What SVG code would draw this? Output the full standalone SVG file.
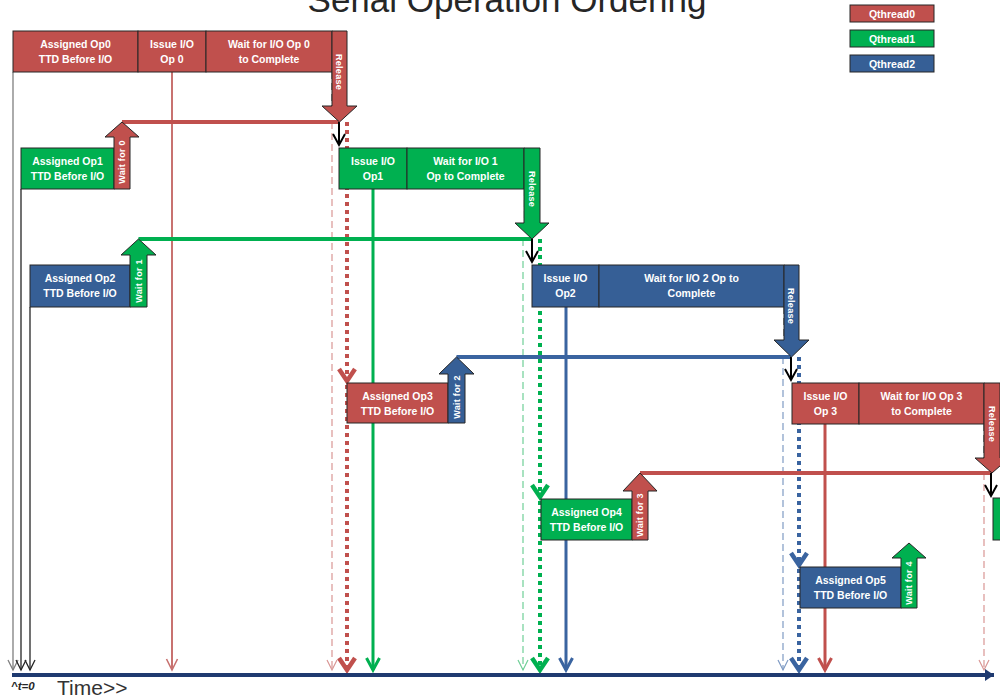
<svg xmlns="http://www.w3.org/2000/svg" width="1000" height="700" viewBox="0 0 1000 700">
  <style>
    .r { fill: #C0504D; }
    .g { fill: #00B050; }
    .b { fill: #365F96; }
    .box { stroke: #262626; stroke-width: 1; }
    .lbl { font-family: "Liberation Sans", Arial, sans-serif; font-weight: bold; font-size: 10.5px; fill: #ffffff; text-anchor: middle; }
    .vt { font-family: "Liberation Sans", Arial, sans-serif; font-weight: bold; font-size: 9px; fill: #ffffff; text-anchor: middle; letter-spacing: 0.3px; }
    .leg { font-family: "Liberation Sans", Arial, sans-serif; font-weight: bold; font-size: 10.5px; fill: #ffffff; text-anchor: middle; }
    .thin { fill: none; stroke-width: 1.3; }
    .solid { fill: none; stroke-width: 3; }
    .dash { fill: none; stroke-width: 1.2; stroke-dasharray: 7 4; }
    .dot { fill: none; stroke-width: 4; stroke-dasharray: 4 4; }
    .bar { fill: none; stroke-width: 4; }
  </style>
  <defs>
    <!-- open V heads; +x is the line direction -->
    <marker id="hGray" markerUnits="userSpaceOnUse" orient="auto" overflow="visible" refX="0" refY="0" markerWidth="1" markerHeight="1">
      <path d="M-10,-5 L0,0 L-10,5" fill="none" stroke="#7f7f7f" stroke-width="1.3"/>
    </marker>
    <marker id="hBlackThin" markerUnits="userSpaceOnUse" orient="auto" overflow="visible" refX="0" refY="0" markerWidth="1" markerHeight="1">
      <path d="M-10,-5 L0,0 L-10,5" fill="none" stroke="#262626" stroke-width="1.3"/>
    </marker>
    <marker id="hBlack" markerUnits="userSpaceOnUse" orient="auto" overflow="visible" refX="0" refY="0" markerWidth="1" markerHeight="1">
      <path d="M-11,-6 L0,0 L-11,6" fill="none" stroke="#000000" stroke-width="2"/>
    </marker>
    <marker id="hRedThin" markerUnits="userSpaceOnUse" orient="auto" overflow="visible" refX="0" refY="0" markerWidth="1" markerHeight="1">
      <path d="M-11,-5.5 L0,0 L-11,5.5" fill="none" stroke="#C87270" stroke-width="1.6"/>
    </marker>
    <marker id="hPink" markerUnits="userSpaceOnUse" orient="auto" overflow="visible" refX="0" refY="0" markerWidth="1" markerHeight="1">
      <path d="M-10,-5 L0,0 L-10,5" fill="none" stroke="#D99694" stroke-width="1.2"/>
    </marker>
    <marker id="hGreenLt" markerUnits="userSpaceOnUse" orient="auto" overflow="visible" refX="0" refY="0" markerWidth="1" markerHeight="1">
      <path d="M-10,-5 L0,0 L-10,5" fill="none" stroke="#6FCF97" stroke-width="1.2"/>
    </marker>
    <marker id="hBlueLt" markerUnits="userSpaceOnUse" orient="auto" overflow="visible" refX="0" refY="0" markerWidth="1" markerHeight="1">
      <path d="M-10,-5 L0,0 L-10,5" fill="none" stroke="#7F9BC4" stroke-width="1.2"/>
    </marker>
    <marker id="hRed" markerUnits="userSpaceOnUse" orient="auto" overflow="visible" refX="0" refY="0" markerWidth="1" markerHeight="1">
      <path d="M-12,-6.5 L0,0 L-12,6.5" fill="none" stroke="#C0504D" stroke-width="3"/>
    </marker>
    <marker id="hGreen" markerUnits="userSpaceOnUse" orient="auto" overflow="visible" refX="0" refY="0" markerWidth="1" markerHeight="1">
      <path d="M-12,-6.5 L0,0 L-12,6.5" fill="none" stroke="#00B050" stroke-width="3"/>
    </marker>
    <marker id="hBlue" markerUnits="userSpaceOnUse" orient="auto" overflow="visible" refX="0" refY="0" markerWidth="1" markerHeight="1">
      <path d="M-12,-6.5 L0,0 L-12,6.5" fill="none" stroke="#3A64A0" stroke-width="3"/>
    </marker>
    <!-- heavy chevrons for the dotted hand-off lines -->
    <marker id="cRed" markerUnits="userSpaceOnUse" orient="auto" overflow="visible" refX="0" refY="0" markerWidth="1" markerHeight="1">
      <path d="M-12,-8 L0,0 L-12,8" fill="none" stroke="#C0504D" stroke-width="4.5"/>
    </marker>
    <marker id="cGreen" markerUnits="userSpaceOnUse" orient="auto" overflow="visible" refX="0" refY="0" markerWidth="1" markerHeight="1">
      <path d="M-12,-8 L0,0 L-12,8" fill="none" stroke="#00B050" stroke-width="4.5"/>
    </marker>
    <marker id="cBlue" markerUnits="userSpaceOnUse" orient="auto" overflow="visible" refX="0" refY="0" markerWidth="1" markerHeight="1">
      <path d="M-12,-8 L0,0 L-12,8" fill="none" stroke="#3A64A0" stroke-width="4.5"/>
    </marker>
    <marker id="hAxis" markerUnits="userSpaceOnUse" orient="auto" overflow="visible" refX="0" refY="0" markerWidth="1" markerHeight="1">
      <path d="M-9,-6 L0,0 L-9,6 Z" fill="#1F3A70"/>
    </marker>
  </defs>

  <rect width="1000" height="700" fill="#ffffff"/>

  <!-- title -->
  <text x="507" y="12" font-family="'Liberation Sans', Arial, sans-serif" font-size="35" fill="#262626" text-anchor="middle">Serial Operation Ordering</text>

  <!-- legend -->
  <g id="legend">
    <rect class="r box" x="850" y="5" width="84" height="17"/>
    <text class="leg" x="892" y="17.5">Qthread0</text>
    <rect class="g box" x="850" y="30" width="84" height="17"/>
    <text class="leg" x="892" y="42.5">Qthread1</text>
    <rect class="b box" x="850" y="55" width="84" height="17"/>
    <text class="leg" x="892" y="67.5">Qthread2</text>
  </g>

  <!-- connectors -->
  <g id="connectors">
    <!-- thread start lines -->
    <line class="thin" x1="13" y1="72" x2="13" y2="670" stroke="#7f7f7f" marker-end="url(#hGray)"/>
    <line class="thin" x1="21" y1="189" x2="21" y2="670" stroke="#262626" marker-end="url(#hBlackThin)"/>
    <line class="thin" x1="30" y1="307" x2="30" y2="670" stroke="#262626" marker-end="url(#hBlackThin)"/>

    <!-- I/O issue lines -->
    <line x1="172" y1="72" x2="172" y2="670" fill="none" stroke="#C87270" stroke-width="2" marker-end="url(#hRedThin)"/>
    <line class="solid" x1="373" y1="189" x2="373" y2="670" stroke="#00B050" marker-end="url(#hGreen)"/>
    <line class="solid" x1="566" y1="307" x2="566" y2="670" stroke="#3A64A0" marker-end="url(#hBlue)"/>
    <line class="solid" x1="825" y1="424" x2="825" y2="670" stroke="#C0504D" marker-end="url(#hRed)"/>

    <!-- release time markers -->
    <line class="dash" x1="332" y1="72" x2="332" y2="106" stroke="#404040"/>
    <line class="dash" x1="332" y1="122" x2="332" y2="670" stroke="#D99694" marker-end="url(#hPink)"/>
    <line class="dash" x1="524" y1="189" x2="524" y2="223" stroke="#d9f2e3"/>
    <line class="dash" x1="523" y1="239" x2="523" y2="670" stroke="#6FCF97" marker-end="url(#hGreenLt)"/>
    <line class="dash" x1="784" y1="307" x2="784" y2="340" stroke="#404040"/>
    <line class="dash" x1="783" y1="357" x2="783" y2="670" stroke="#7F9BC4" marker-end="url(#hBlueLt)"/>
    <line class="dash" x1="984" y1="424" x2="984" y2="458" stroke="#404040"/>
    <line class="dash" x1="984" y1="473" x2="984" y2="670" stroke="#D99694" marker-end="url(#hPink)"/>

    <!-- hand-off to the next assigned op -->
    <line class="dot" x1="347" y1="122" x2="347" y2="381" stroke="#C0504D" marker-end="url(#cRed)"/>
    <line class="dot" x1="347" y1="385" x2="347" y2="670" stroke="#C0504D" marker-end="url(#cRed)"/>
    <line class="dot" x1="540" y1="239" x2="540" y2="497" stroke="#00B050" marker-end="url(#cGreen)"/>
    <line class="dot" x1="540" y1="501" x2="540" y2="670" stroke="#00B050" marker-end="url(#cGreen)"/>
    <line class="dot" x1="799" y1="357" x2="799" y2="565" stroke="#3A64A0" marker-end="url(#cBlue)"/>
    <line class="dot" x1="799" y1="569" x2="799" y2="670" stroke="#3A64A0" marker-end="url(#cBlue)"/>

    <!-- wait links -->
    <line class="bar" x1="122" y1="122" x2="340" y2="122" stroke="#C0504D"/>
    <line class="bar" x1="138.5" y1="239" x2="532" y2="239" stroke="#00B050"/>
    <line class="bar" x1="456.5" y1="357" x2="791.5" y2="357" stroke="#3A64A0"/>
    <line class="bar" x1="640" y1="473" x2="992" y2="473" stroke="#C0504D"/>

    <!-- release to issue -->
    <line x1="339" y1="122" x2="339" y2="145" stroke="#000" stroke-width="2" marker-end="url(#hBlack)"/>
    <line x1="532" y1="239" x2="532" y2="262" stroke="#000" stroke-width="2" marker-end="url(#hBlack)"/>
    <line x1="791" y1="357" x2="791" y2="380" stroke="#000" stroke-width="2" marker-end="url(#hBlack)"/>
    <line x1="991" y1="473" x2="991" y2="496" stroke="#000" stroke-width="2" marker-end="url(#hBlack)"/>

    <!-- time axis -->
    <line x1="12" y1="675" x2="994" y2="675" stroke="#1F3A70" stroke-width="4" marker-end="url(#hAxis)"/>
  </g>

  <!-- Qthread0: op 0 -->
  <g id="op0">
    <rect class="r box" x="13" y="31" width="125" height="41"/>
    <text class="lbl" x="75.5" y="48">Assigned Op0</text>
    <text class="lbl" x="75.5" y="63">TTD Before I/O</text>
    <rect class="r box" x="138" y="31" width="68" height="41"/>
    <text class="lbl" x="172" y="48">Issue I/O</text>
    <text class="lbl" x="172" y="63">Op 0</text>
    <rect class="r box" x="206" y="31" width="126" height="41"/>
    <text class="lbl" x="269" y="48">Wait for I/O  Op 0</text>
    <text class="lbl" x="269" y="63">to Complete</text>
  </g>
  <g id="release0">
    <polygon class="r box" points="332,31 347,31 347,106 357,106 339.5,122 322,106 332,106"/>
    <text class="vt" transform="translate(339.5,72) rotate(90)" y="3.2">Release</text>
  </g>

  <!-- Qthread1: op 1 -->
  <g id="op1-assign">
    <rect class="g box" x="21" y="148" width="93" height="41"/>
    <text class="lbl" x="67.5" y="165">Assigned Op1</text>
    <text class="lbl" x="67.5" y="180">TTD Before I/O</text>
  </g>
  <g id="wait0">
    <polygon class="r box" points="114,189 130,189 130,137 139,137 122,122 105,137 114,137"/>
    <text class="vt" transform="translate(122,162) rotate(-90)" y="3.2">Wait for 0</text>
  </g>
  <g id="op1-io">
    <rect class="g box" x="339" y="148" width="68" height="41"/>
    <text class="lbl" x="373" y="165">Issue I/O</text>
    <text class="lbl" x="373" y="180">Op1</text>
    <rect class="g box" x="407" y="148" width="117" height="41"/>
    <text class="lbl" x="465.5" y="165">Wait for I/O 1</text>
    <text class="lbl" x="465.5" y="180">Op to Complete</text>
  </g>
  <g id="release1">
    <polygon class="g box" points="524,148 540,148 540,223 549,223 532,239 515,223 524,223"/>
    <text class="vt" transform="translate(532,189) rotate(90)" y="3.2">Release</text>
  </g>

  <!-- Qthread2: op 2 -->
  <g id="op2-assign">
    <rect class="b box" x="30" y="265" width="100" height="42"/>
    <text class="lbl" x="80" y="282">Assigned Op2</text>
    <text class="lbl" x="80" y="297">TTD Before I/O</text>
  </g>
  <g id="wait1">
    <polygon class="g box" points="130,307 147,307 147,255 156,255 138.5,239 121,255 130,255"/>
    <text class="vt" transform="translate(138.5,281) rotate(-90)" y="3.2">Wait for 1</text>
  </g>
  <g id="op2-io">
    <rect class="b box" x="532" y="265" width="67" height="42"/>
    <text class="lbl" x="565.5" y="282">Issue I/O</text>
    <text class="lbl" x="565.5" y="297">Op2</text>
    <rect class="b box" x="599" y="265" width="185" height="42"/>
    <text class="lbl" x="691.5" y="282">Wait for I/O  2 Op to</text>
    <text class="lbl" x="691.5" y="297">Complete</text>
  </g>
  <g id="release2">
    <polygon class="b box" points="784,265 799,265 799,340 809,340 791.5,357 774,340 784,340"/>
    <text class="vt" transform="translate(791.5,306) rotate(90)" y="3.2">Release</text>
  </g>

  <!-- Qthread0: op 3 -->
  <g id="op3-assign">
    <rect class="r box" x="347" y="383" width="101" height="40"/>
    <text class="lbl" x="397.5" y="400">Assigned Op3</text>
    <text class="lbl" x="397.5" y="415">TTD Before I/O</text>
  </g>
  <g id="wait2">
    <polygon class="b box" points="448,423 465,423 465,374 474,374 456.5,357 439,374 448,374"/>
    <text class="vt" transform="translate(456.5,397) rotate(-90)" y="3.2">Wait for 2</text>
  </g>
  <g id="op3-io">
    <rect class="r box" x="792" y="383" width="67" height="41"/>
    <text class="lbl" x="825.5" y="400">Issue I/O</text>
    <text class="lbl" x="825.5" y="415">Op 3</text>
    <rect class="r box" x="859" y="383" width="125" height="41"/>
    <text class="lbl" x="921.5" y="400">Wait for I/O  Op 3</text>
    <text class="lbl" x="921.5" y="415">to Complete</text>
  </g>
  <g id="release3">
    <polygon class="r box" points="984,383 1000,383 1000,458 1009,458 992,473 975,458 984,458"/>
    <text class="vt" transform="translate(992,424) rotate(90)" y="3.2">Release</text>
  </g>

  <!-- Qthread1: op 4 -->
  <g id="op4-assign">
    <rect class="g box" x="541" y="499" width="91" height="41"/>
    <text class="lbl" x="586.5" y="516">Assigned Op4</text>
    <text class="lbl" x="586.5" y="531">TTD Before I/O</text>
  </g>
  <g id="wait3">
    <polygon class="r box" points="632,540 648,540 648,491 657,491 640,473 623,491 632,491"/>
    <text class="vt" transform="translate(640,515) rotate(-90)" y="3.2">Wait for 3</text>
  </g>
  <g id="op4-io">
    <rect class="g box" x="993" y="498" width="20" height="42"/>
  </g>

  <!-- Qthread2: op 5 -->
  <g id="op5-assign">
    <rect class="b box" x="800" y="567" width="101" height="41"/>
    <text class="lbl" x="850.5" y="584">Assigned Op5</text>
    <text class="lbl" x="850.5" y="599">TTD Before I/O</text>
  </g>
  <g id="wait4">
    <polygon class="g box" points="901,608 917,608 917,558 926,558 909,543 892,558 901,558"/>
    <text class="vt" transform="translate(909,583) rotate(-90)" y="3.2">Wait for 4</text>
  </g>

  <!-- axis labels -->
  <text x="11" y="690" font-family="'Liberation Sans', Arial, sans-serif" font-size="11.5" font-weight="bold" font-style="italic" fill="#262626">^t=0</text>
  <text x="57" y="695" font-family="'Liberation Sans', Arial, sans-serif" font-size="21" fill="#333333">Time&gt;&gt;</text>
</svg>
